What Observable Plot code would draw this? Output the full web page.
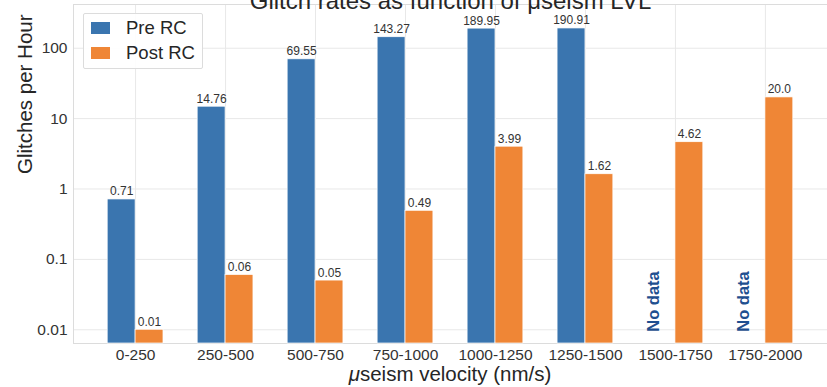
<!DOCTYPE html>
<html>
<head>
<meta charset="utf-8">
<script src="https://cdn.jsdelivr.net/npm/d3@7"></script>
<script src="https://cdn.jsdelivr.net/npm/@observablehq/plot@0.6"></script>
<style>
  html, body { margin: 0; padding: 0; background: #fff; overflow: hidden; }
  #wrap { position: relative; width: 827px; height: 387px; font-family: "Liberation Sans", Arial, sans-serif; }
  #wrap svg { position: absolute; left: 0; top: 0; }
  .legend { position: absolute; left: 83px; top: 13px; width: 118px; height: 54px; border: 1px solid #dcdcdc; background: rgba(255,255,255,0.9); border-radius: 2px; }
  .legend .row { position: absolute; left: 0; height: 20px; display: flex; align-items: center; font-size: 18.5px; color: #262626; white-space: nowrap; }
  .legend .sw { display: inline-block; width: 19px; height: 12px; margin-left: 7px; margin-right: 16px; }
  .xlabel { position: absolute; top: 364px; left: 450px; transform: translateX(-50%); font-size: 20.5px; line-height: 20px; color: #262626; white-space: nowrap; }
</style>
</head>
<body>
<div id="wrap"></div>
<script>
// ---- data ----
const categories = ["0-250", "250-500", "500-750", "750-1000", "1000-1250", "1250-1500", "1500-1750", "1750-2000"];
const preRC  = [0.71, 14.76, 69.55, 143.27, 189.95, 190.91, null, null];
const postRC = [0.01, 0.06, 0.05, 0.49, 3.99, 1.62, 4.62, 20.0];
const seriesNames = ["Pre RC", "Post RC"];
const seriesColors = ["#3a75af", "#ef8636"];
const yTicks = [0.01, 0.1, 1, 10, 100];
const titleText = "Glitch rates as function of μseism LVL";
const yLabelText = "Glitches per Hour";
const xLabelText = "seism velocity (nm/s)";
const noDataText = "No data";

// ---- build table ----
const barWidth = 0.31;
const yMin = 0.00638, yMax = 418;
const rows = [];
categories.forEach((c, i) => {
  rows.push({cat: c, i, series: seriesNames[0], value: preRC[i], x1: i - barWidth, x2: i, xc: i - barWidth / 2});
  rows.push({cat: c, i, series: seriesNames[1], value: postRC[i], x1: i, x2: i + barWidth, xc: i + barWidth / 2});
});
const present = rows.filter(d => d.value != null);
const missing = rows.filter(d => d.value == null);
const fmt = v => (v === Math.round(v) ? v.toFixed(1) : String(v));

const chart = Plot.plot({
  width: 827,
  height: 387,
  marginLeft: 73,
  marginRight: 0,
  marginTop: 4,
  marginBottom: 44,
  style: {fontFamily: '"Liberation Sans", Arial, sans-serif', color: "#333", background: "transparent", overflow: "visible"},
  x: {type: "linear", domain: [-0.69, categories.length - 1 + 0.69]},
  y: {type: "log", domain: [yMin, yMax]},
  color: {domain: seriesNames, range: seriesColors},
  marks: [
    Plot.gridY(yTicks, {stroke: "#e8e8e8", strokeOpacity: 1}),
    Plot.gridX(d3.range(categories.length), {stroke: "#e8e8e8", strokeOpacity: 1}),
    Plot.frame({stroke: "#dcdcdc"}),
    Plot.rectY(present, {x1: "x1", x2: "x2", y1: () => yMin, y2: "value", fill: "series", stroke: "white", strokeWidth: 0.7}),
    Plot.text(present, {x: "xc", y: "value", text: d => fmt(d.value), lineAnchor: "bottom", dy: -4, fontSize: 12, fill: "#333"}),
    Plot.text(missing, {x: "xc", y: () => 0.01, text: () => noDataText, rotate: -90, textAnchor: "start", lineAnchor: "middle", dx: -8, dy: 2, fontSize: 16.5, fontWeight: "bold", fill: "#1f4f8f"}),
    Plot.axisY(yTicks, {tickSize: 0, tickPadding: 6, fontSize: 15.5, tickFormat: d => String(d), label: null}),
    Plot.axisX(d3.range(categories.length), {tickSize: 0, tickPadding: 5, fontSize: 15.5, tickFormat: i => categories[i], label: null}),
    Plot.text([yLabelText], {text: d => d, frameAnchor: "left", rotate: -90, dx: -48, lineAnchor: "middle", fontSize: 20.5, fill: "#262626"}),
    Plot.text([titleText], {text: d => d, frameAnchor: "top", dy: 4, lineAnchor: "bottom", fontSize: 24, fill: "#262626"})
  ]
});

const wrap = document.getElementById("wrap");
wrap.appendChild(chart);

// legend
const legend = document.createElement("div");
legend.className = "legend";
seriesNames.forEach((name, k) => {
  const row = document.createElement("div");
  row.className = "row";
  row.style.top = (k === 0 ? 4 : 29) + "px";
  const sw = document.createElement("span");
  sw.className = "sw";
  sw.style.background = seriesColors[k];
  const t = document.createElement("span");
  t.textContent = name;
  row.appendChild(sw);
  row.appendChild(t);
  legend.appendChild(row);
});
wrap.appendChild(legend);

// x label
const xl = document.createElement("div");
xl.className = "xlabel";
const mu = document.createElement("i");
mu.textContent = "μ";
xl.appendChild(mu);
xl.appendChild(document.createTextNode(xLabelText));
wrap.appendChild(xl);
</script>
</body>
</html>
